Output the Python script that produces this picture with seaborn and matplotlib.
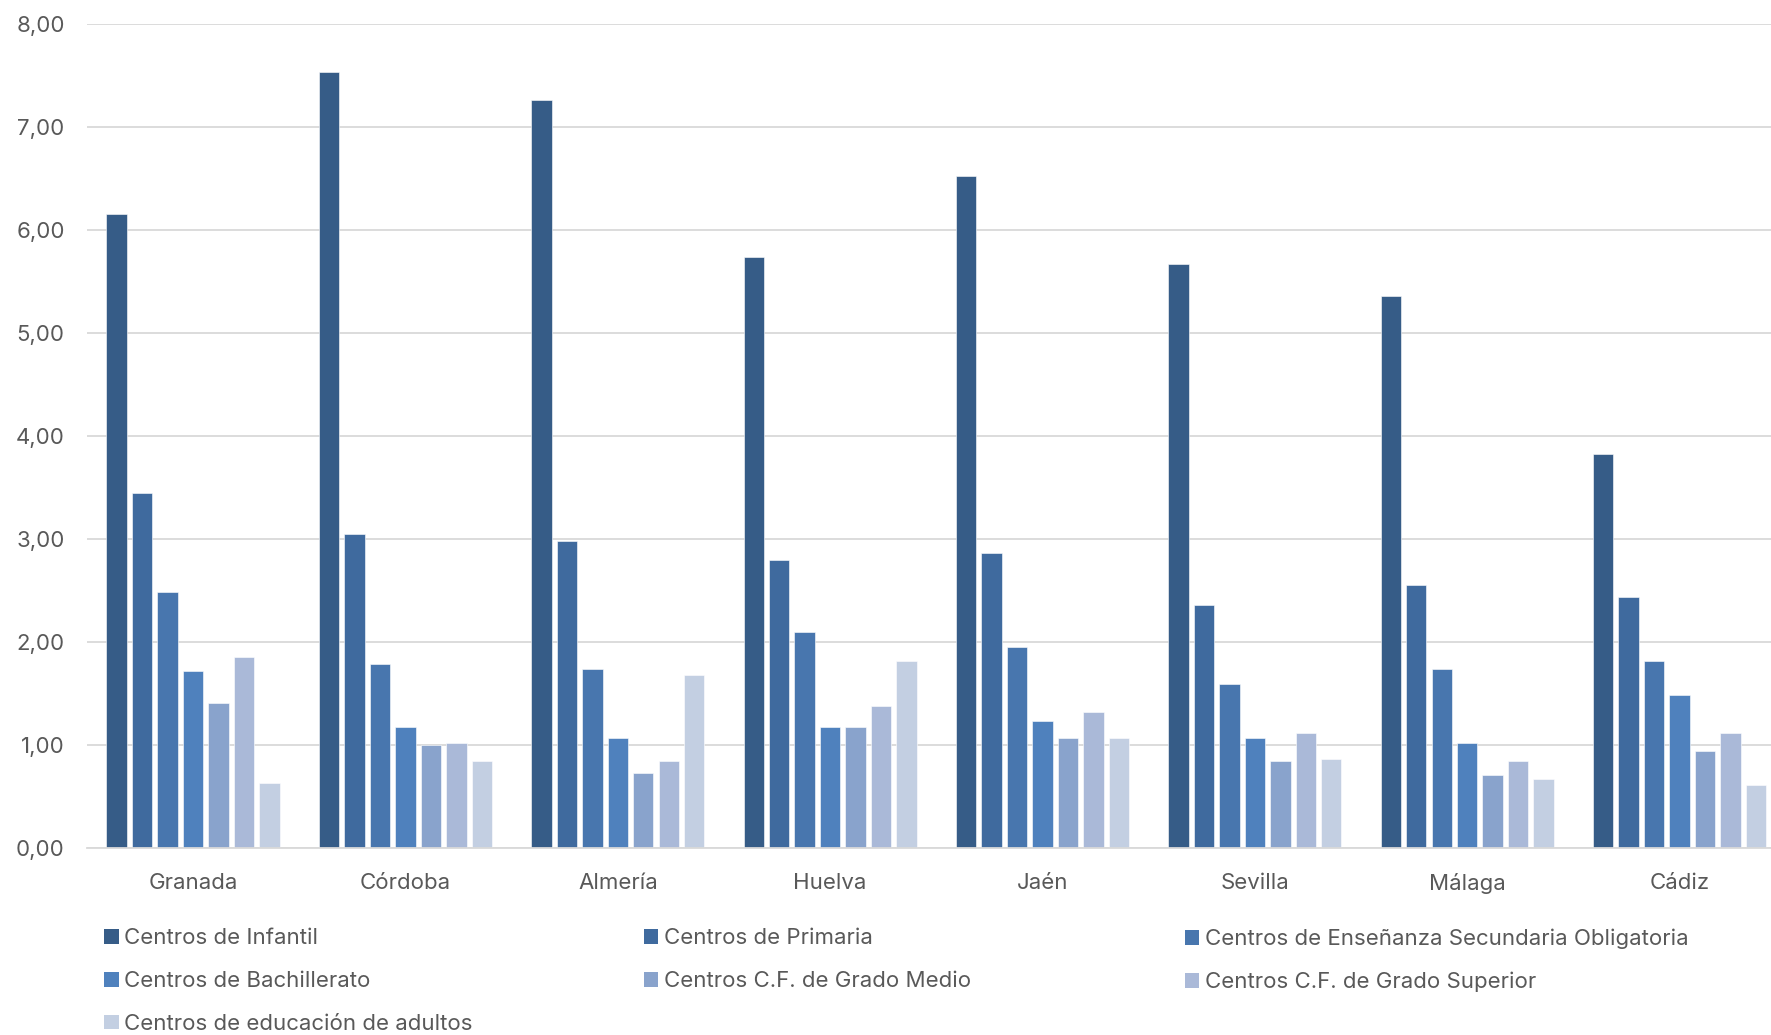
import pandas as pd
import numpy as np
import matplotlib.pyplot as plt
import seaborn as sns
from matplotlib.patches import Patch
from matplotlib.ticker import FuncFormatter

# --- data ---
provincias = ["Granada", "Córdoba", "Almería", "Huelva", "Jaén", "Sevilla", "Málaga", "Cádiz"]
series = [
    "Centros de Infantil",
    "Centros de Primaria",
    "Centros de Enseñanza Secundaria Obligatoria",
    "Centros de Bachillerato",
    "Centros C.F. de Grado Medio",
    "Centros C.F. de Grado Superior",
    "Centros de educación de adultos",
]
infantil = [6.16, 7.53, 7.26, 5.74, 6.52, 5.67, 5.36, 3.83]
primaria = [3.45, 3.05, 2.98, 2.80, 2.86, 2.36, 2.55, 2.44]
eso = [2.49, 1.79, 1.74, 2.10, 1.95, 1.59, 1.74, 1.82]
bachillerato = [1.72, 1.17, 1.07, 1.17, 1.23, 1.07, 1.02, 1.49]
grado_medio = [1.41, 1.00, 0.73, 1.17, 1.07, 0.84, 0.71, 0.94]
grado_superior = [1.85, 1.02, 0.84, 1.38, 1.32, 1.12, 0.84, 1.12]
adultos = [0.63, 0.84, 1.68, 1.82, 1.07, 0.86, 0.67, 0.61]

colores = ["#365C87", "#3F6A9E", "#4876AE", "#4F81BD", "#89A3CC", "#AAB9D8", "#C3CFE2"]

valores = [infantil, primaria, eso, bachillerato, grado_medio, grado_superior, adultos]
rows = []
for s, vals in zip(series, valores):
    for p, v in zip(provincias, vals):
        rows.append({"provincia": p, "serie": s, "valor": v})
df = pd.DataFrame(rows)

sns.set_style("white")
plt.rcParams["font.family"] = ["Inter", "DejaVu Sans"]
gris = "#595959"
fs = 16

fig = plt.figure(figsize=(17.71, 10.35), dpi=100)
ax = fig.add_axes([0.0491, 0.1807, 0.9592, 0.7961])

sns.barplot(data=df, x="provincia", y="valor", hue="serie", order=provincias,
            hue_order=series, palette=colores, saturation=1, width=0.84, gap=0.2,
            edgecolor="white", linewidth=0.4, errorbar=None, legend=False, ax=ax)

ax.set_ylim(0, 8)
ax.set_xlim(-0.5, len(provincias) - 0.5)
ax.set_yticks(np.arange(0, 9, 1))
ax.yaxis.set_major_formatter(FuncFormatter(lambda v, _: f"{v:.2f}".replace(".", ",")))
ax.grid(axis="y", color="#D9D9D9", linewidth=1.3)
ax.set_axisbelow(True)
for sp in ["top", "right", "left"]:
    ax.spines[sp].set_visible(False)
ax.spines["bottom"].set_color("#D9D9D9")
ax.spines["bottom"].set_linewidth(1.3)
ax.set_xlabel("")
ax.set_ylabel("")
ax.tick_params(axis="both", length=0, labelsize=fs, labelcolor=gris)
ax.tick_params(axis="x", pad=18)
ax.tick_params(axis="y", pad=16)

# legend: three fixed-width columns, filled row by row
col_x = [0.059, 0.3635, 0.669]
cols = [[0, 3, 6], [1, 4], [2, 5]]
for x, idx in zip(col_x, cols):
    handles = [Patch(facecolor=colores[i], edgecolor="none") for i in idx]
    fig.legend(handles, [series[i] for i in idx], loc="upper left",
               bbox_to_anchor=(x, 0.103), frameon=False, fontsize=fs,
               labelcolor=gris, handlelength=0.65, handleheight=0.65,
               handletextpad=0.25, labelspacing=1.02, borderaxespad=0,
               borderpad=0)

fig.savefig("out.png", dpi=100)
